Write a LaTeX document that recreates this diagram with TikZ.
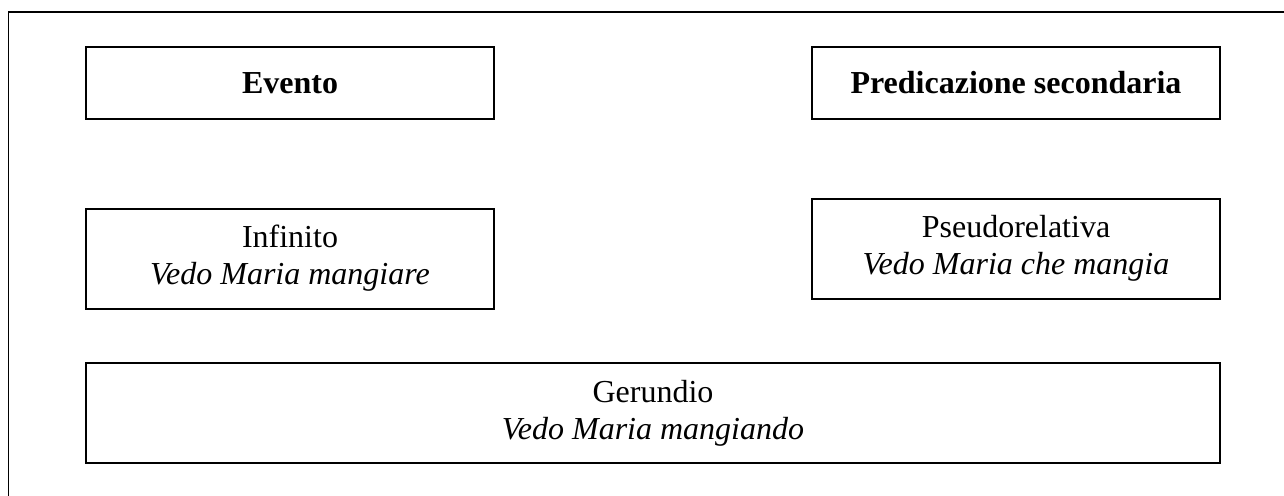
\documentclass[tikz,border=0pt]{standalone}
\usepackage{fontspec}
\setmainfont{Liberation Serif}
\tikzset{
    box/.style={draw, line width=1pt, rectangle, inner sep=0pt, align=center, font=\fontsize{16}{18.5}\selectfont},
    colbox/.style={box, minimum width=204pt, minimum height=36pt},
    exbox/.style={box, minimum width=204pt, minimum height=50pt},
}
\begin{document}
\begin{tikzpicture}[x=0.5pt, y=-0.5pt]
        \useasboundingbox (0, 0) rectangle (1284, 495);
        % cornice esterna
        \draw[line width=0.9pt] (8.5, 500) -- (8.5, 12) -- (1290, 12);
        \node[colbox] (ev) at (290, 83) {\textbf{Evento}};
        \node[colbox] (ps) at (1016, 83) {\textbf{Predicazione secondaria}};
        \node[exbox] (inf) at (290, 258.5) {Infinito\\\textit{Vedo Maria mangiare}};
        \node[exbox] (pr) at (1016, 248.5) {Pseudorelativa\\\textit{Vedo Maria che mangia}};
        \node[box, minimum width=567pt, minimum height=50pt] (ger) at (653, 413) {Gerundio\\\textit{Vedo Maria mangiando}};
    \end{tikzpicture}
\end{document}
